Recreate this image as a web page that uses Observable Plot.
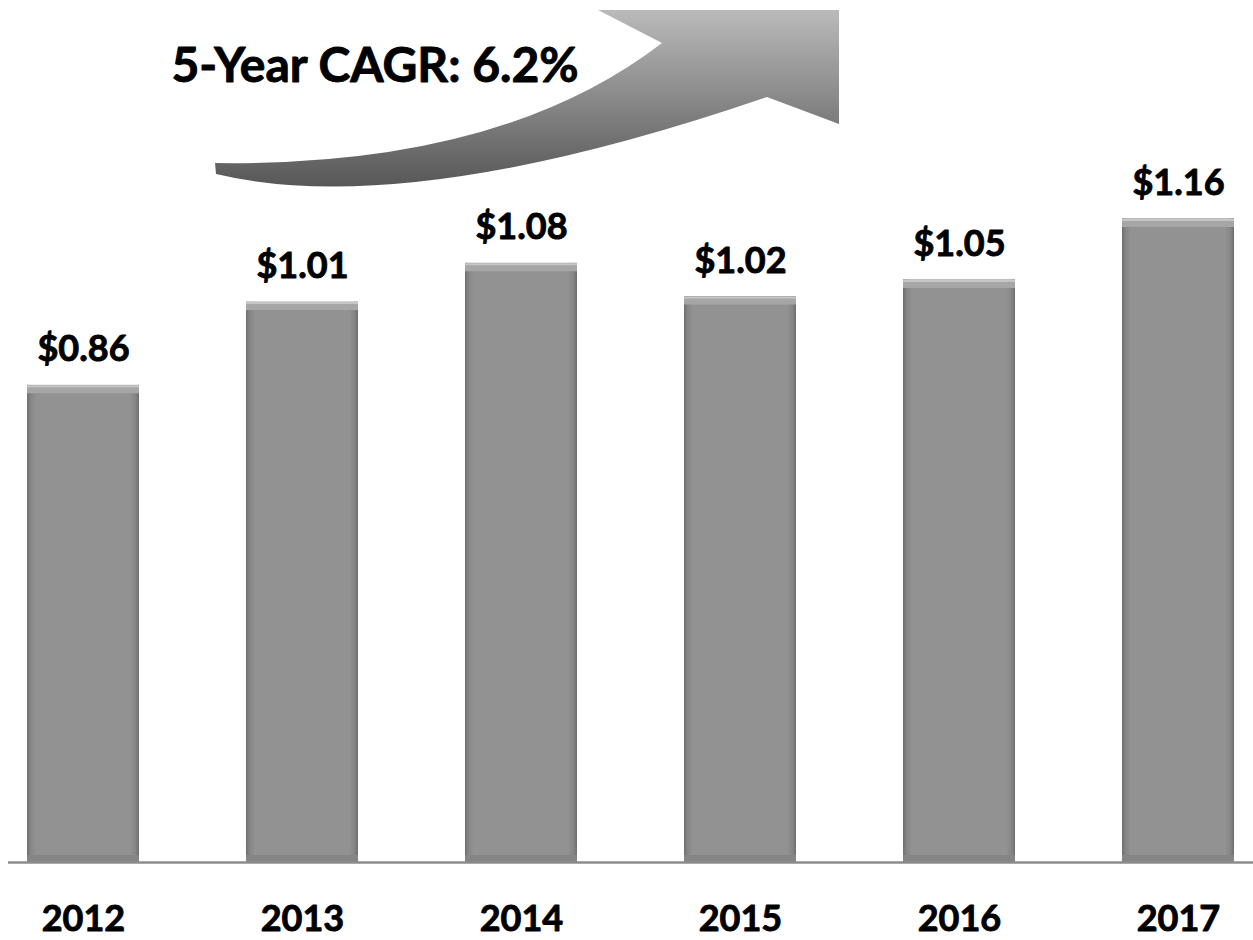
<!DOCTYPE html>
<html>
<head>
<meta charset="utf-8">
<script src="https://cdn.jsdelivr.net/npm/d3@7"></script>
<script src="https://cdn.jsdelivr.net/npm/@observablehq/plot@0.6"></script>
<style>
  html, body { margin: 0; padding: 0; background: #ffffff; }
  #chart svg { display: block; }
</style>
</head>
<body>
<div id="chart"></div>
<script>
// ---- data ----
const years = ["2012", "2013", "2014", "2015", "2016", "2017"];
const values = [0.86, 1.01, 1.08, 1.02, 1.05, 1.16];
const valueLabels = ["$0.86", "$1.01", "$1.08", "$1.02", "$1.05", "$1.16"];
const titleText = "5-Year CAGR: 6.2%";

const data = years.map((y, i) => ({year: y, value: values[i], label: valueLabels[i]}));

const FONT = "Lato, 'Open Sans', sans-serif";

// gradients (render function)
function defsMark() {
  return () => {
    const defs = d3.create("svg:defs");
    const bg = defs.append("linearGradient").attr("id", "barGrad")
      .attr("x1", "0").attr("x2", "1").attr("y1", "0").attr("y2", "0");
    [["0%", "#6e6e6e"], ["3%", "#858585"], ["8%", "#929292"], ["92%", "#929292"], ["97%", "#858585"], ["100%", "#6e6e6e"]]
      .forEach(([o, c]) => bg.append("stop").attr("offset", o).attr("stop-color", c));
    const ag = defs.append("linearGradient").attr("id", "arrowGrad")
      .attr("x1", "0").attr("x2", "0").attr("y1", "0").attr("y2", "1");
    [["0%", "#bababa"], ["45%", "#8e8e8e"], ["100%", "#575757"]]
      .forEach(([o, c]) => ag.append("stop").attr("offset", o).attr("stop-color", c));
    return defs.node();
  };
}

// decorative curved block arrow
function arrowMark() {
  return () => {
    const p = d3.path();
    p.moveTo(215, 163);
    p.quadraticCurveTo(501, 167, 662, 43);
    p.lineTo(598, 10);
    p.lineTo(839, 10);
    p.lineTo(839, 124);
    p.lineTo(767, 97);
    p.quadraticCurveTo(409, 220, 216, 174);
    p.closePath();
    return d3.create("svg:path").attr("d", p.toString())
      .attr("fill", "url(#arrowGrad)").node();
  };
}

const textStyle = {fontWeight: "bold", fill: "#000000", stroke: "#000000", strokeWidth: 0.9, fontFamily: FONT};

const chart = Plot.plot({
  width: 1253,
  height: 940,
  marginLeft: 8,
  marginRight: 0,
  marginTop: 2,
  marginBottom: 78,
  style: {fontFamily: FONT, background: "#ffffff"},
  x: {domain: years, paddingInner: 0.49, paddingOuter: 0.086, axis: null},
  y: {domain: [0, 1.55], axis: null},
  marks: [
    defsMark(),
    arrowMark(),
    Plot.text([titleText], {
      frameAnchor: "top", dx: -256, dy: 79, lineAnchor: "bottom",
      fontSize: 48, ...textStyle
    }),
    Plot.barY(data, {x: "year", y: "value", fill: "url(#barGrad)"}),
    Plot.tickY(data, {x: "year", y: "value", stroke: "#a6a6a6", strokeWidth: 8, dy: 4}),
    Plot.tickY(data, {x: "year", y: "value", stroke: "#c6c6c6", strokeWidth: 2, dy: 1}),
    Plot.tickY(data, {x: "year", y: () => 0, stroke: "#858585", strokeWidth: 7, dy: -4}),
    Plot.ruleY([0], {stroke: "#8c8c8c", strokeWidth: 2.5}),
    Plot.text(data, {
      x: "year", y: "value", text: "label", dy: -24, lineAnchor: "bottom",
      fontSize: 36, ...textStyle
    }),
    Plot.text(data, {
      x: "year", y: () => 0, text: "year", dy: 68, lineAnchor: "bottom",
      fontSize: 36, ...textStyle
    })
  ]
});

document.getElementById("chart").appendChild(chart);
</script>
</body>
</html>
